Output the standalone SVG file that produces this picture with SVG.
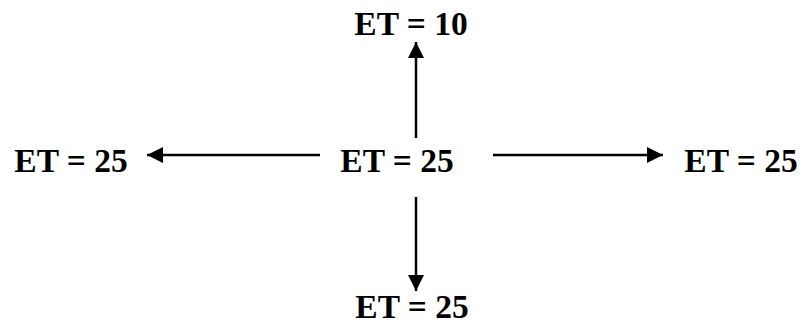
<svg xmlns="http://www.w3.org/2000/svg" width="805" height="326" viewBox="0 0 805 326">
<style>
text{font-family:"Liberation Serif","Times New Roman",serif;font-weight:bold;font-size:33.5px;fill:#000;text-anchor:middle}
.c{stroke:#000;stroke-width:2.5;fill:none}
</style>
<defs>
<marker id="ah" viewBox="0 0 16 16" refX="16" refY="8" markerWidth="16" markerHeight="16" markerUnits="userSpaceOnUse" orient="auto">
<path d="M0,0 L16,8 L0,16 Z" fill="#000"/>
</marker>
</defs>
<rect width="805" height="326" fill="#fff"/>
<g id="connectors">
<line class="c" x1="416" y1="138" x2="416" y2="42" marker-end="url(#ah)"/>
<line class="c" x1="320" y1="155" x2="147" y2="155" marker-end="url(#ah)"/>
<line class="c" x1="493" y1="155" x2="663" y2="155" marker-end="url(#ah)"/>
<line class="c" x1="416" y1="197" x2="416" y2="291" marker-end="url(#ah)"/>
</g>
<g id="center"><text x="397" y="172">ET = 25</text></g>
<g id="top"><text x="411" y="35">ET = 10</text></g>
<g id="left"><text x="71" y="172">ET = 25</text></g>
<g id="right"><text x="741" y="172">ET = 25</text></g>
<g id="bottom"><text x="412" y="318">ET = 25</text></g>
</svg>
